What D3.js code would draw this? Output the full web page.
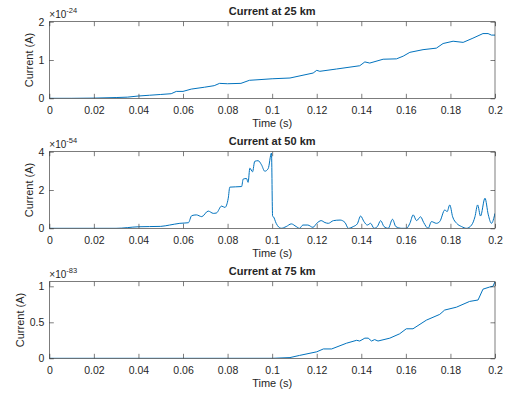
<!DOCTYPE html>
<html>
<head>
<meta charset="utf-8">
<script src="https://cdn.jsdelivr.net/npm/d3@7"></script>
<style>
  body { margin: 0; background: #fff; }
  text { font-family: "Liberation Sans", Arial, sans-serif; fill: #262626; }
</style>
</head>
<body>
<div id="chart"></div>
<script>
// readings (time in s, current in units of the exponent)
const titles = ['Current at 25 km', 'Current at 50 km', 'Current at 75 km'];
const exponents = ['-24', '-54', '-83'];
const yMaxes = [2, 4, 1.064];
const yTicks = [[0, 1, 2], [0, 2, 4], [0, 0.5, 1]];
const xTicks = [0, 0.02, 0.04, 0.06, 0.08, 0.1, 0.12, 0.14, 0.16, 0.18, 0.2];

const t25 = [0, 0.01, 0.02, 0.03, 0.035, 0.04, 0.045, 0.05, 0.0547, 0.057, 0.06, 0.0637, 0.0697, 0.074, 0.0764, 0.08, 0.086, 0.0898, 0.095, 0.1, 0.108, 0.1184, 0.12, 0.1214, 0.1289, 0.1393, 0.1416, 0.1438, 0.1498, 0.1558, 0.1588, 0.1618, 0.1677, 0.1737, 0.1767, 0.1812, 0.1857, 0.1901, 0.1946, 0.1969, 0.1984, 0.2];
const i25 = [0, 0, 0.005, 0.02, 0.03, 0.06, 0.08, 0.1, 0.12, 0.18, 0.18, 0.24, 0.29, 0.33, 0.39, 0.38, 0.39, 0.47, 0.49, 0.51, 0.53, 0.66, 0.73, 0.705, 0.765, 0.85, 0.95, 0.92, 1.02, 1.03, 1.10, 1.20, 1.27, 1.31, 1.43, 1.49, 1.46, 1.57, 1.69, 1.69, 1.65, 1.65];

const t50 = [0, 0.03, 0.04, 0.05, 0.054, 0.0586, 0.0624, 0.0639, 0.066, 0.0684, 0.0713, 0.0736, 0.075, 0.0773, 0.0788, 0.0803, 0.081, 0.0863, 0.087, 0.0885, 0.0892, 0.09, 0.0912, 0.0922, 0.0937, 0.0952, 0.0967, 0.0982, 0.0997, 0.1002,
  0.1006, 0.1018, 0.104, 0.1063, 0.1086, 0.1108, 0.1123, 0.1138, 0.116, 0.1183, 0.12, 0.122, 0.1237, 0.1252, 0.1275, 0.1305, 0.1327, 0.1342, 0.1364, 0.1382, 0.1397, 0.1412, 0.1427, 0.1442, 0.1457, 0.1472, 0.1487, 0.1502, 0.1521, 0.154, 0.1555, 0.1581, 0.1603, 0.1618, 0.1633, 0.1648, 0.1666, 0.168, 0.17, 0.1715, 0.1737, 0.1752, 0.1775, 0.1785, 0.1797, 0.181, 0.1828, 0.185, 0.1872, 0.1895, 0.191, 0.1922, 0.1935, 0.1955, 0.197, 0.1984, 0.2];
const i50 = [0, 0, 0.08, 0.1, 0.17, 0.26, 0.29, 0.66, 0.7, 0.61, 0.9, 0.78, 0.8, 1.16, 1.09, 1.57, 2.15, 2.18, 2.57, 2.6, 2.4, 3.14, 2.95, 3.5, 3.53, 3.32, 2.98, 3.11, 3.93, 0.63,
  0.6, 0.26, 0, 0.09, 0.23, 0.09, 0, 0.17, 0.17, 0.05, 0.26, 0.4, 0.3, 0.26, 0.4, 0.43, 0.3, 0, 0.09, 0.23, 0.64, 0.35, 0.17, 0.26, 0, 0.09, 0.4, 0.09, 0, 0.47, 0.09, 0, 0, 0.26, 0.7, 0.4, 0.6, 0.3, 0, 0.35, 0.26, 0.35, 0.96, 0.87, 1.22, 0.6, 0.26, 0.09, 0, 0.17, 0.6, 1.22, 0.64, 1.57, 0.7, 0.26, 0.78];

const t75 = [0, 0.1, 0.108, 0.1123, 0.12, 0.123, 0.1267, 0.1334, 0.1379, 0.1393, 0.1416, 0.1431, 0.1446, 0.146, 0.1475, 0.1528, 0.1572, 0.1602, 0.1632, 0.1692, 0.1752, 0.1774, 0.1827, 0.1886, 0.1924, 0.1946, 0.1976, 0.1991, 0.2];
const i75 = [0, 0, 0.01, 0.04, 0.09, 0.13, 0.13, 0.21, 0.25, 0.24, 0.28, 0.28, 0.24, 0.26, 0.24, 0.28, 0.34, 0.41, 0.41, 0.53, 0.61, 0.67, 0.71, 0.79, 0.81, 0.96, 0.99, 1.0, 1.064];

const series = [[t25, i25], [t50, i50], [t75, i75]];

const svgWidth = 505, svgHeight = 393;
const left = 49.3, right = 495;
const tops = [21.7, 151.7, 281.7];
const plotH = 76.6;
const tickLen = 4.5;
const axisColor = '#262626';

const svg = d3.select('#chart').append('svg')
  .attr('width', svgWidth)
  .attr('height', svgHeight);

const x = d3.scaleLinear().domain([0, 0.2]).range([left, right]);

series.forEach(([ts, vs], k) => {
  const top = tops[k], bottom = top + plotH;
  const y = d3.scaleLinear().domain([0, yMaxes[k]]).range([bottom, top]);
  const g = svg.append('g');

  g.append('clipPath').attr('id', 'clip' + k)
    .append('rect').attr('x', left).attr('y', top - 1).attr('width', right - left).attr('height', plotH + 1);

  const pts = ts.map((t, i) => [t, vs[i]]);
  const line = d3.line().x(d => x(d[0])).y(d => y(d[1]))
    .curve(k === 1 ? d3.curveMonotoneX : d3.curveLinear);

  g.append('path')
    .datum(pts)
    .attr('clip-path', `url(#clip${k})`)
    .attr('fill', 'none')
    .attr('stroke', '#0072BD')
    .attr('stroke-width', 1)
    .attr('d', line);

  // x axis bottom with labels, inward ticks
  const xb = g.append('g').attr('transform', `translate(0,${bottom})`)
    .call(d3.axisBottom(x).tickValues(xTicks).tickSizeInner(-tickLen).tickSizeOuter(0).tickPadding(8)
      .tickFormat(d => d3.format('~g')(d)));
  const xt = g.append('g').attr('transform', `translate(0,${top})`)
    .call(d3.axisTop(x).tickValues(xTicks).tickSizeInner(-tickLen).tickSizeOuter(0).tickFormat(''));
  const yl = g.append('g').attr('transform', `translate(${left},0)`)
    .call(d3.axisLeft(y).tickValues(yTicks[k]).tickSizeInner(-tickLen).tickSizeOuter(0).tickPadding(5)
      .tickFormat(d => d3.format('~g')(d)));
  const yr = g.append('g').attr('transform', `translate(${right},0)`)
    .call(d3.axisRight(y).tickValues(yTicks[k]).tickSizeInner(-tickLen).tickSizeOuter(0).tickFormat(''));

  [xb, xt, yl, yr].forEach(a => {
    a.select('.domain').remove();
    a.selectAll('line').attr('stroke', axisColor).attr('stroke-width', 0.6);
    a.selectAll('text').attr('font-size', 10.5).attr('fill', axisColor)
      .style('font-family', '"Liberation Sans", Arial, sans-serif');
  });
  xb.selectAll('text').attr('dy', '0.71em');

  g.append('rect')
    .attr('x', left).attr('y', top)
    .attr('width', right - left).attr('height', plotH)
    .attr('fill', 'none').attr('stroke', axisColor).attr('stroke-width', 0.6);

  g.append('text')
    .attr('x', (left + right) / 2).attr('y', top - 6.5)
    .attr('text-anchor', 'middle')
    .attr('font-size', 11).attr('font-weight', 'bold')
    .attr('fill', '#000')
    .text(titles[k]);

  g.append('text')
    .attr('x', (left + right) / 2).attr('y', bottom + 29)
    .attr('text-anchor', 'middle')
    .attr('font-size', 11)
    .text('Time (s)');

  const ylx = k === 2 ? 24 : 33;
  g.append('text')
    .attr('transform', `translate(${ylx},${(top + bottom) / 2}) rotate(-90)`)
    .attr('text-anchor', 'middle')
    .attr('font-size', 11)
    .text('Current (A)');

  const ex = g.append('text')
    .attr('x', left).attr('y', top - 4)
    .attr('font-size', 10);
  ex.append('tspan').text('×10');
  ex.append('tspan').attr('dy', -5).attr('font-size', 7.5).text(exponents[k]);
});
</script>
</body>
</html>
